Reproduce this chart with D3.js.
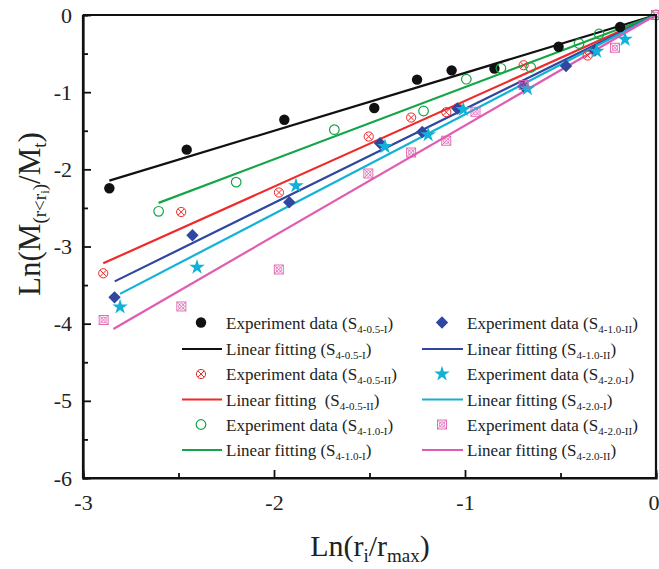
<!DOCTYPE html>
<html><head><meta charset="utf-8">
<script src="https://cdn.jsdelivr.net/npm/d3@7"></script>
<style>
html,body{margin:0;padding:0;background:#fff;}
svg{display:block;font-family:"Liberation Serif","Times New Roman",serif;}
</style></head>
<body>
<svg id="chart" width="659" height="569"></svg>
<script>
// ---- data ----
const seriesNames = ["4-0.5-I","4-0.5-II","4-1.0-I","4-1.0-II","4-2.0-I","4-2.0-II"];
const seriesColors = ["#111111","#ee2a2a","#15a548","#2f47a0","#12b2d6","#e05cb0"];
const seriesMarkers = ["dot","crossCircle","openCircle","diamond","star","crossSquare"];

const xBlack = [-2.862,-2.457,-1.946,-1.475,-1.251,-1.070,-0.846,-0.510,-0.188];
const yBlack = [-2.245,-1.745,-1.357,-1.205,-0.838,-0.717,-0.693,-0.412,-0.156];
const xRed   = [-2.894,-2.486,-1.974,-1.504,-1.282,-1.098,-1.037,-0.693,-0.358];
const yRed   = [-3.347,-2.553,-2.300,-1.575,-1.329,-1.259,-1.205,-0.651,-0.525];
const xGreen = [-2.604,-2.198,-1.684,-1.217,-0.993,-0.812,-0.656,-0.403,-0.298,0];
const yGreen = [-2.544,-2.166,-1.486,-1.244,-0.832,-0.691,-0.680,-0.370,-0.246,0];
const xBlue  = [-2.835,-2.427,-1.920,-1.445,-1.224,-1.040,-0.693,-0.471,-0.320];
const yBlue  = [-3.659,-2.855,-2.427,-1.662,-1.516,-1.211,-0.924,-0.661,-0.460];
const xCyan  = [-2.806,-2.403,-1.885,-1.419,-1.193,-1.009,-0.673,-0.311,-0.162];
const yCyan  = [-3.784,-3.268,-2.212,-1.706,-1.551,-1.224,-0.955,-0.469,-0.315];
const xPink  = [-2.892,-2.485,-1.975,-1.506,-1.282,-1.098,-0.945,-0.693,-0.215,0];
const yPink  = [-3.952,-3.777,-3.298,-2.054,-1.782,-1.629,-1.254,-0.907,-0.424,0];

// linear fits: y = slope * x + intercept, drawn from fitStart to fitEnd
const fitSlopes     = [0.750, 1.112, 0.935, 1.218, 1.288, 1.432];
const fitIntercepts = [0, 0, 0, 0, 0, 0];
const fitStart      = [-2.862, -2.894, -2.604, -2.834, -2.806, -2.841];
const fitEnd        = [0, 0, 0, 0, 0, 0];

const xTicks = [-3,-2,-1,0];
const xMinorTicks = [-2.5,-1.5,-0.5];
const yTicks = [0,-1,-2,-3,-4,-5,-6];
const yMinorTicks = [-0.5,-1.5,-2.5,-3.5,-4.5,-5.5];

const xs = [xBlack,xRed,xGreen,xBlue,xCyan,xPink];
const ys = [yBlack,yRed,yGreen,yBlue,yCyan,yPink];

// ---- chart ----
const svg = d3.select("#chart");
const L = 83, R = 656, T = 15, B = 478;
const x = d3.scaleLinear().domain([-3,0]).range([L,R]);
const y = d3.scaleLinear().domain([-6,0]).range([B,T]);
const fmt = d => String(d);

// fit lines
const lineGen = d3.line().x(d=>x(d[0])).y(d=>y(d[1]));
seriesNames.forEach((n,i)=>{
  const pts = [fitStart[i], fitEnd[i]].map(v=>[v, fitSlopes[i]*v+fitIntercepts[i]]);
  svg.append("path").attr("d", lineGen(pts)).attr("fill","none")
    .attr("stroke", seriesColors[i]).attr("stroke-width", 2.2);
});

function drawMarker(g, type, color){
  if(type==="dot"){
    g.append("circle").attr("r",5.2).attr("fill",color);
  } else if(type==="openCircle"){
    g.append("circle").attr("r",4.8).attr("fill","none").attr("stroke",color).attr("stroke-width",1.2);
  } else if(type==="crossCircle"){
    g.append("circle").attr("r",4.6).attr("fill","none").attr("stroke",color).attr("stroke-width",1);
    g.append("path").attr("d","M-3.2,-3.2L3.2,3.2M-3.2,3.2L3.2,-3.2").attr("stroke",color).attr("stroke-width",1);
  } else if(type==="crossSquare"){
    g.append("rect").attr("x",-4.5).attr("y",-4.5).attr("width",9).attr("height",9).attr("fill","none").attr("stroke",color).attr("stroke-width",0.9);
    g.append("path").attr("d","M-4.5,-4.5L4.5,4.5M-4.5,4.5L4.5,-4.5").attr("stroke",color).attr("stroke-width",0.8);
    g.append("circle").attr("r",2.8).attr("fill","none").attr("stroke",color).attr("stroke-width",0.8);
  } else if(type==="diamond"){
    g.append("path").attr("d","M0,-6.2L6.2,0L0,6.2L-6.2,0Z").attr("fill",color);
  } else if(type==="star"){
    g.append("path").attr("d", d3.symbol().type(d3.symbolStar).size(75)()).attr("fill",color);
  }
}

// markers
seriesNames.forEach((n,i)=>{
  xs[i].forEach((xv,j)=>{
    const g = svg.append("g").attr("transform",`translate(${x(xv)},${y(ys[i][j])})`);
    drawMarker(g, seriesMarkers[i], seriesColors[i]);
  });
});

// axes
const axisFont = "22px";
const gx = svg.append("g").attr("transform",`translate(0,${B})`)
  .call(d3.axisBottom(x).tickValues(xTicks).tickFormat(fmt).tickSize(-8).tickPadding(16));
const gxm = svg.append("g").attr("transform",`translate(0,${B})`)
  .call(d3.axisBottom(x).tickValues(xMinorTicks).tickFormat("").tickSize(-5));
const gy = svg.append("g").attr("transform",`translate(${L},0)`)
  .call(d3.axisLeft(y).tickValues(yTicks).tickFormat(fmt).tickSize(-8).tickPadding(11));
const gym = svg.append("g").attr("transform",`translate(${L},0)`)
  .call(d3.axisLeft(y).tickValues(yMinorTicks).tickFormat("").tickSize(-5));
[gx,gxm,gy,gym].forEach(g=>{
  g.selectAll(".domain").attr("stroke","#111").attr("stroke-width",2.2);
  g.selectAll(".tick line").attr("stroke","#111").attr("stroke-width",1.8);
  g.selectAll("text").attr("font-family","Liberation Serif").attr("font-size",axisFont).attr("fill","#222");
});
// keep the last x label ("0") inside the window
gx.selectAll(".tick text").filter(d=>d===0).attr("text-anchor","end").attr("x",3);
gx.selectAll(".domain").attr("d",`M${L},0H${R}`);
gy.selectAll(".domain").attr("d",`M0,${B}V${T}`);
// frame
svg.append("path").attr("d",`M${L},${T}H${R}V${B}`).attr("fill","none").attr("stroke","#111").attr("stroke-width",2.2);

// axis titles
const xt = svg.append("text").attr("x",370).attr("y",556).attr("text-anchor","middle")
  .attr("font-size","30px").attr("fill","#222");
xt.append("tspan").text("Ln(r");
xt.append("tspan").attr("font-size","19px").attr("dy",6).text("i");
xt.append("tspan").attr("dy",-6).text("/r");
xt.append("tspan").attr("font-size","19px").attr("dy",6).text("max");
xt.append("tspan").attr("dy",-6).text(")");

const yt = svg.append("text").attr("transform","translate(40,214) rotate(-90)").attr("text-anchor","middle")
  .attr("font-size","31px").attr("fill","#222");
yt.append("tspan").text("Ln(M");
yt.append("tspan").attr("font-size","19px").attr("dy",6).text("(r<r");
yt.append("tspan").attr("font-size","13px").attr("dy",3).text("i");
yt.append("tspan").attr("font-size","19px").attr("dy",-3).text(")");
yt.append("tspan").attr("dy",-6).text("/M");
yt.append("tspan").attr("font-size","19px").attr("dy",6).text("t");
yt.append("tspan").attr("dy",-6).text(")");

// legend
const legendRowsY = [322.5, 349, 374, 399.5, 424.5, 450];
const legendCols = [{m:201, l0:182, l1:222, t:226},{m:442, l0:422, l1:463, t:467}];
seriesNames.forEach((n,i)=>{
  const col = legendCols[Math.floor(i/3)];
  const r = (i%3)*2;
  const yM = legendRowsY[r], yL = legendRowsY[r+1];
  const g = svg.append("g").attr("transform",`translate(${col.m},${yM})`);
  drawMarker(g, seriesMarkers[i], seriesColors[i]);
  svg.append("line").attr("x1",col.l0).attr("x2",col.l1).attr("y1",yL).attr("y2",yL)
    .attr("stroke",seriesColors[i]).attr("stroke-width",2.2);
  [["Experiment data (S", yM],[ (i===1 ? "Linear fitting  (S" : "Linear fitting (S"), yL]].forEach(([lab,yy])=>{
    const t = svg.append("text").attr("x",col.t).attr("y",yy+6).attr("font-size","17px")
      .attr("fill","#222").style("white-space","pre");
    t.append("tspan").text(lab);
    t.append("tspan").attr("font-size","11px").attr("dy",4).text(n);
    t.append("tspan").attr("dy",-4).text(")");
  });
});
</script>
</body></html>
